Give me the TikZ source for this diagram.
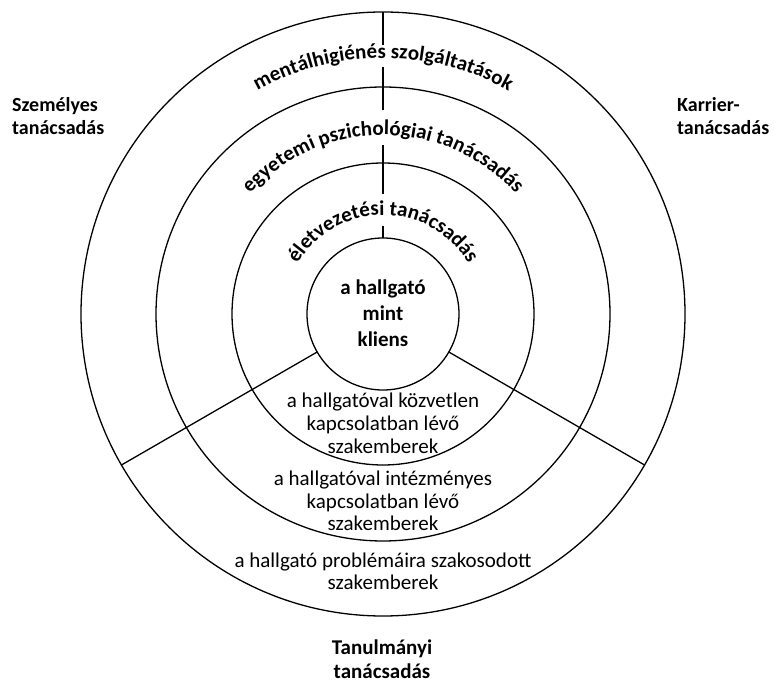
\documentclass[tikz,border=0pt]{standalone}
\usepackage{fontspec}
\setmainfont{Carlito}
\usetikzlibrary{decorations.text,calc}
\begin{document}
\begin{tikzpicture}[x=1pt,y=1pt,
  ring/.style={circle,draw,line width=1.3pt,inner sep=0pt,outer sep=0pt},
  spoke/.style={line width=1.3pt},
  btxt/.style={font=\fontsize{21}{25}\selectfont\bfseries,inner sep=0pt},
  rtxt/.style={font=\fontsize{21}{25}\selectfont,inner sep=0pt,anchor=base},
  lab/.style={font=\fontsize{20}{24}\selectfont\bfseries,inner sep=0pt,anchor=base west},
  ctr/.style={btxt,anchor=base},
  arctext/.style={decorate,decoration={text along path,text align=center,
     text={|\fontsize{21}{25}\selectfont\bfseries|#1}}}
]
\fill[white] (0,0) rectangle (774,683);
\useasboundingbox (0,0) rectangle (774,683);
\coordinate (C) at (383,369);

\node[ring,minimum size=152pt] (c1) at (C) {};
\node[ring,minimum size=302pt] (c2) at (C) {};
\node[ring,minimum size=454pt] (c3) at (C) {};
\node[ring,minimum size=604pt] (c4) at (C) {};

\draw[spoke] (c1.210) -- (c4.210);
\draw[spoke] (c1.330) -- (c4.330);

\coordinate (v1) at ($(C)+(90:88)$);
\coordinate (v2) at ($(C)+(90:120)$);
\coordinate (v3) at ($(C)+(90:169)$);
\coordinate (v4) at ($(C)+(90:204)$);
\coordinate (v5) at ($(C)+(90:247)$);
\coordinate (v6) at ($(C)+(90:269)$);
\draw[spoke] (c1.90) -- (v1);
\draw[spoke] (v2) -- (v3);
\draw[spoke] (v4) -- (v5);
\draw[spoke] (v6) -- (c4.90);

\path[arctext={mentálhigiénés szolgáltatások}]
  ($(C)+(180:256)$) arc[start angle=180,end angle=0,radius=256];
\path[arctext={egyetemi pszichológiai tanácsadás}]
  ($(C)+(180:179)$) arc[start angle=180,end angle=0,radius=179];
\path[arctext={életvezetési tanácsadás}]
  ($(C)+(180:99)$) arc[start angle=180,end angle=0,radius=99];

\node[ctr] (k1) at (383,388) {a hallgató};
\node[ctr] (k2) at (383,362) {mint};
\node[ctr] (k3) at (383,336) {kliens};

\node[rtxt] (a1) at (383,275) {a hallgatóval közvetlen};
\node[rtxt] (a2) at (383,252) {kapcsolatban lévő};
\node[rtxt] (a3) at (383,229) {szakemberek};

\node[rtxt] (b1) at (383,197) {a hallgatóval intézményes};
\node[rtxt] (b2) at (383,174) {kapcsolatban lévő};
\node[rtxt] (b3) at (383,152) {szakemberek};

\node[rtxt] (d1) at (383,115) {a hallgató problémáira szakosodott};
\node[rtxt] (d2) at (383,93) {szakemberek};

\node[lab] (s1) at (12,571) {Személyes};
\node[lab] (s2) at (12,548) {tanácsadás};
\node[lab] (k4) at (677,571) {Karrier-};
\node[lab] (k5) at (677,548) {tanácsadás};
\node[ctr] (t1) at (382,28) {Tanulmányi};
\node[ctr] (t2) at (382,5) {tanácsadás};
\end{tikzpicture}
\end{document}
